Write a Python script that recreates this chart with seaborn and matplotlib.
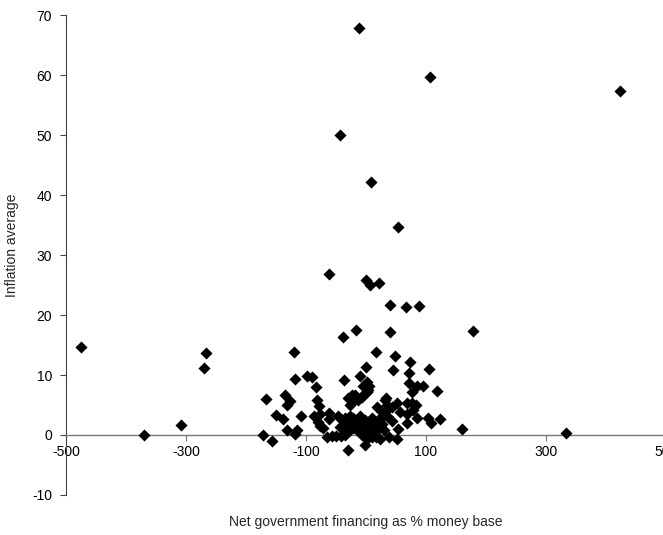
import pandas as pd
import matplotlib
matplotlib.use("Agg")
import matplotlib.pyplot as plt
import seaborn as sns

# net government financing (% money base) vs inflation average
financing = [
    -11.7, 107, 423, -43.5, 8, 54, -61, -0.6, 6.7, 21,
    39.5, 67, 88, 178, -16.7, -38, 39.5, -475.5, -369.5, -309,
    -267, -269.5, 333, 160.5, -120.5, 17, 48.3, 73, 105, 45.5,
    71.7, 0, -118, -98, -90, -10, -36, 1, 5, 4,
    -84, 71.7, 85.5, 95.5, 76, 117.8, -167, -135, -126, -131,
    -150.5, -138, -108, -131, -114.5, -118, -171, -156, -82, -78,
    -86.7, -76.7, -61, -62, -79.5, -76.7, -72, -65.5, -57, -50,
    -42, -35, -29.5, -24, -18.3, -26.7, -21, -12.8, -7, -3.3,
    1, -4.5, -46, -40.5, -35, -29.5, -26.7, -21, -15.5, -10,
    -7, -1.7, 4, 9.5, 15, 20.5, -43.3, -38, -32, -26.7,
    -21, -15.5, -10, -4.5, 1, 6.7, 9.5, 15, 17.8, -7,
    1, 9.5, 16.7, -1.7, -29.5, 23, 39, 51, 19, 26,
    28.8, 34.5, 31.7, 35.5, 33.3, 51, 67.8, 76, 83.3, 37,
    42.8, 56.7, 67.8, 79, 84.5, 104, 108, 123, 69, 54,
    26, 30, 43,
]
inflation = [
    67.8, 59.6, 57.3, 50.0, 42.1, 34.6, 26.8, 25.9, 25.0, 25.4,
    21.7, 21.3, 21.5, 17.3, 17.5, 16.3, 17.1, 14.7, 0.0, 1.7,
    13.6, 11.2, 0.4, 1.0, 13.9, 13.9, 13.2, 12.1, 11.0, 10.8,
    10.4, 11.4, 9.3, 9.8, 9.6, 9.9, 9.2, 8.9, 8.1, 7.5,
    8.0, 8.7, 8.1, 8.1, 7.1, 7.3, 6.0, 6.6, 5.7, 5.0,
    3.4, 2.7, 3.1, 0.8, 0.8, 0.1, 0.0, -1.0, 5.8, 4.9,
    3.2, 3.5, 3.6, 2.7, 2.2, 1.5, 1.2, -0.3, -0.1, -0.1,
    -0.1, 0.0, 6.1, 6.7, 6.7, 5.0, 5.6, 5.8, 6.4, 6.9,
    7.2, 8.1, 3.1, 2.5, 2.8, 2.2, 3.1, 2.8, 2.2, 3.1,
    2.2, 2.5, 2.2, 2.8, 2.2, 2.5, 1.4, 1.1, 1.4, 0.8,
    1.1, 0.8, 1.7, 1.1, 0.8, 1.4, 0.6, 1.4, 0.8, 0.0,
    -0.6, -0.3, -0.3, -1.7, -2.5, -0.7, -0.3, -0.7, 4.6, 3.9,
    3.1, 3.1, 5.9, 5.0, 6.1, 5.4, 5.3, 5.3, 5.0, 4.4,
    4.6, 3.9, 3.5, 4.2, 2.8, 2.8, 2.0, 2.7, 2.0, 1.0,
    1.8, 0.9, 2.3,
]
x_ticks = [-500, -300, -100, 100, 300, 500]
y_ticks = [-10, 0, 10, 20, 30, 40, 50, 60, 70]

df = pd.DataFrame({"financing": financing, "inflation": inflation})

sns.set_style("white")
plt.rcParams["font.family"] = ["Liberation Sans", "DejaVu Sans"]
plt.rcParams["axes.unicode_minus"] = False

fig = plt.figure(figsize=(6.63, 5.35), dpi=100)
ax = fig.add_axes([0.0995, 0.0748, 0.905, 0.897])

sns.scatterplot(data=df, x="financing", y="inflation", marker="D", color="black",
                s=38, edgecolor="black", linewidth=0, ax=ax, zorder=3)

ax.set_xlim(-500, 500)
ax.set_ylim(-10, 70)
ax.set_xticks(x_ticks)
ax.set_yticks(y_ticks)

for side in ["top", "right"]:
    ax.spines[side].set_visible(False)
ax.spines["bottom"].set_position(("data", 0))
ax.spines["bottom"].set_color("#777777")
ax.spines["left"].set_color("#444444")
ax.spines["bottom"].set_linewidth(1.0)
ax.spines["left"].set_linewidth(0.8)

ax.tick_params(axis="x", direction="out", length=4, width=0.8, color="#777777",
               pad=3, labelsize=10, labelcolor="black")
ax.tick_params(axis="y", direction="out", length=4, width=0.8, color="#444444",
               pad=6, labelsize=10, labelcolor="black")
ax.tick_params(bottom=True, left=True)

ax.set_xlabel("Net government financing as % money base", fontsize=10)
ax.set_ylabel("Inflation average", fontsize=10)
ax.xaxis.set_label_coords(0.5, -0.042)
ax.yaxis.set_label_coords(-0.078, 0.52)

fig.savefig("out.png", dpi=100)
